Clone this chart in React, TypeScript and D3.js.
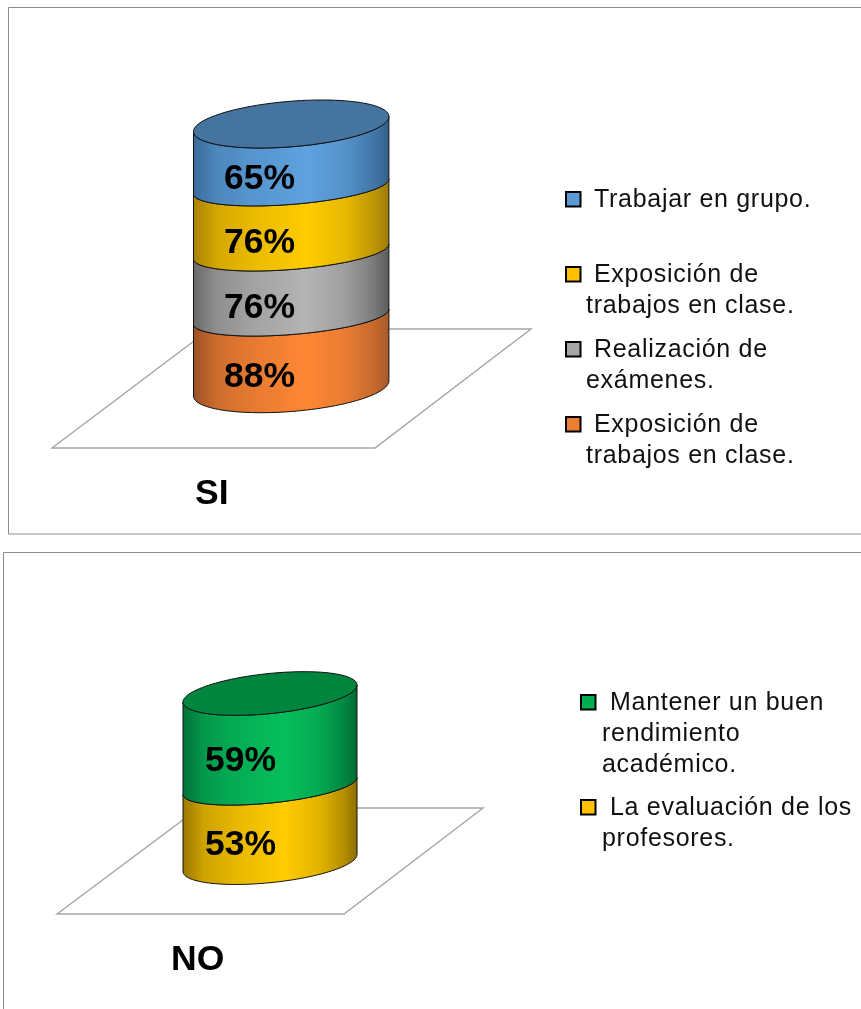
import React from "react";
import * as d3 from "d3";

const siLabels = ["88%", "76%", "76%", "65%"];
const siShares = [27.2, 24.6, 24.6, 23.6];
const siColors = [
  ["#9c5226", "#ff8734", "#a85a2a"],
  ["#6a6a6a", "#b4b4b4", "#5c5c5c"],
  ["#a98200", "#ffcc00", "#9c7a08"],
  ["#3a6c99", "#5fa2df", "#33608a"],
];
const siCaps = ["#44749f"];
const siLegend = [
  { color: "#5b9bd5", lines: ["Trabajar en grupo."] },
  { color: "#ffc000", lines: ["Exposición de", "trabajos en clase."] },
  { color: "#a5a5a5", lines: ["Realización de", "exámenes."] },
  { color: "#ed7d31", lines: ["Exposición de", "trabajos en clase."] },
];
const siLegendBaselines = [207, 282, 357, 432];

const noLabels = ["53%", "59%"];
const noShares = [45.4, 54.6];
const noColors = [
  ["#9c7800", "#ffcc00", "#8f6f00"],
  ["#00713a", "#05bf5c", "#006a34"],
];
const noCaps = ["#00853f"];
const noLegend = [
  { color: "#00b050", lines: ["Mantener un buen", "rendimiento", "académico."] },
  { color: "#ffc000", lines: ["La evaluación de los", "profesores."] },
];
const noLegendBaselines = [710, 815];

const FONT = "'Liberation Sans', Arial, sans-serif";

type Spec = {
  id: string;
  labels: string[];
  shares: number[];
  colors: string[][];
  cap: string;
  cx: number;
  a: number;
  b: number;
  bCap: number;
  bInner: number;
  bBottom: number;
  tilt: number;
  yBottom: number;
  yTop: number;
  labelX: number;
  labelDy: number;
  floor: [number, number][];
  name: string;
  nameX: number;
  nameY: number;
};

function Cylinder({ s }: { s: Spec }) {
  const y = d3.scaleLinear().domain([0, 100]).range([s.yBottom, s.yTop]);
  const line = d3.line<[number, number]>().x((d) => d[0]).y((d) => d[1]);
  const point = (y0: number, b: number, t: number): [number, number] => [
    s.cx + s.a * Math.cos(t),
    y0 + b * Math.sin(t) + s.tilt * s.a * Math.cos(t),
  ];
  const ts = d3.range(0, 61).map((i) => (i / 60) * Math.PI);
  const cum = d3.cumsum(s.shares);
  const n = s.shares.length;
  const front = (value: number, b: number) => ts.map((t) => point(y(value), b, t));
  const frontY = (value: number, x: number) => {
    const u = (x - s.cx) / s.a;
    return y(value) + s.b * Math.sqrt(1 - u * u) + s.tilt * (x - s.cx);
  };
  const capPts = d3.range(0, 121).map((i) => point(y(100), s.bCap, (i / 120) * 2 * Math.PI));
  return (
    <g>
      <defs>
        {s.colors.map((c, i) => {
          const left = d3.interpolateRgb(c[0], c[1]);
          const right = d3.interpolateRgb(c[1], c[2]);
          return (
            <linearGradient key={i} id={`${s.id}${i}`} x1="0" x2="1" y1="0" y2="0">
              <stop offset="0" stopColor={c[0]} />
              <stop offset="0.12" stopColor={left(0.5)} />
              <stop offset="0.3" stopColor={left(0.75)} />
              <stop offset="0.58" stopColor={c[1]} />
              <stop offset="0.78" stopColor={right(0.25)} />
              <stop offset="0.92" stopColor={right(0.65)} />
              <stop offset="1" stopColor={c[2]} />
            </linearGradient>
          );
        })}
      </defs>
      <path d={line(s.floor)! + "Z"} fill="#fff" stroke="#a6a6a6" strokeWidth={1.4} />
      {s.shares.map((_, i) => {
        const lo = i === 0 ? 0 : cum[i - 1];
        const hi = cum[i];
        const pts = [
          ...front(lo, i === 0 ? s.bBottom : s.bInner),
          ...front(hi, i === n - 1 ? s.bCap : s.bInner).reverse(),
        ];
        return (
          <path key={i} d={line(pts)! + "Z"} fill={`url(#${s.id}${i})`} stroke="#111" strokeWidth={1} />
        );
      })}
      <path d={line(capPts)! + "Z"} fill={s.cap} stroke="#111" strokeWidth={1} />
      {s.labels.map((l, i) => {
        const lo = i === 0 ? 0 : cum[i - 1];
        const mid = (lo + cum[i]) / 2;
        return (
          <text
            key={i}
            x={s.labelX}
            y={frontY(mid, s.labelX + 36) + s.labelDy}
            fontFamily={FONT}
            fontWeight="bold"
            fontSize={35.5}
            fill="#000"
          >
            {l}
          </text>
        );
      })}
      <text x={s.nameX} y={s.nameY} fontFamily={FONT} fontWeight="bold" fontSize={35.5} fill="#000">
        {s.name}
      </text>
    </g>
  );
}

function Legend({
  items,
  baselines,
  swatchX,
  textX,
  wrapX,
}: {
  items: { color: string; lines: string[] }[];
  baselines: number[];
  swatchX: number;
  textX: number;
  wrapX: number;
}) {
  return (
    <g>
      {items.map((it, i) => (
        <g key={i}>
          <rect x={swatchX} y={baselines[i] - 15} width={14.5} height={14.5} fill={it.color} stroke="#000" strokeWidth={2} />
          {it.lines.map((t, j) => (
            <text
              key={j}
              x={j === 0 ? textX : wrapX}
              y={baselines[i] + j * 31}
              fontFamily={FONT}
              fontSize={25}
              letterSpacing={0.7}
              fill="#111"
            >
              {t}
            </text>
          ))}
        </g>
      ))}
    </g>
  );
}

const siSpec: Spec = {
  id: "si",
  labels: siLabels,
  shares: siShares,
  colors: siColors,
  cap: siCaps[0],
  cx: 291.2,
  a: 97.7,
  b: 22.8,
  bCap: 22.8,
  bInner: 18,
  bBottom: 23,
  tilt: -0.077,
  yBottom: 388.5,
  yTop: 124,
  labelX: 224,
  labelDy: 10,
  floor: [[52, 448], [375, 448], [531, 329], [210, 329]],
  name: "SI",
  nameX: 195,
  nameY: 504,
};

const noSpec: Spec = {
  id: "no",
  labels: noLabels,
  shares: noShares,
  colors: noColors,
  cap: noCaps[0],
  cx: 270,
  a: 87,
  b: 19.7,
  bCap: 20.1,
  bInner: 17,
  bBottom: 19.7,
  tilt: -0.098,
  yBottom: 863,
  yTop: 693.5,
  labelX: 205,
  labelDy: 9.5,
  floor: [[57, 914], [344, 914], [483, 808], [199, 808]],
  name: "NO",
  nameX: 171,
  nameY: 970,
};

export default function App() {
  return (
    <svg
      width={861}
      height={1009}
      style={{ position: "absolute", left: 0, top: 0, background: "#fff", filter: "blur(0.5px)" }}
    >
      <path d="M870 7.5H8.5V534H870" fill="none" stroke="#8c8c8c" strokeWidth={1} />
      <path d="M870 552.5H3.5V1020" fill="none" stroke="#8c8c8c" strokeWidth={1} />
      <Cylinder s={siSpec} />
      <Legend items={siLegend} baselines={siLegendBaselines} swatchX={566} textX={594} wrapX={586} />
      <Cylinder s={noSpec} />
      <Legend items={noLegend} baselines={noLegendBaselines} swatchX={581} textX={610} wrapX={602} />
    </svg>
  );
}
